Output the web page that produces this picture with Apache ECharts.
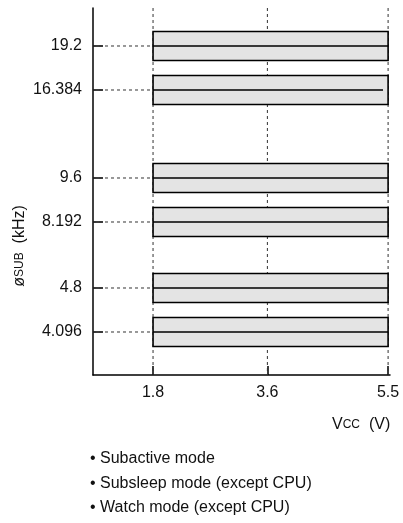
<!DOCTYPE html>
<html><head><meta charset="utf-8">
<script src="https://cdn.jsdelivr.net/npm/echarts@6/dist/echarts.min.js"></script>
<style>html,body{margin:0;padding:0;background:#fff}#c{width:403px;height:523px}</style>
</head><body><div id="c"></div>
<script>
// Frequency rows (empty strings are spacer rows of the schematic)
const freqRows = ['19.2','','16.384','','','','9.6','','8.192','','','4.8','','4.096'];
// Operating range of each frequency row (V)
const vccFrom = [1.8, 1.8, 1.8, 1.8, 1.8, 1.8];
const vccTo   = [5.5, 5.5, 5.5, 5.5, 5.5, 5.5];
// Where the middle rule of each bar ends (V)
const midEnd  = [5.5, 5.42, 5.5, 5.5, 5.5, 5.5];
// Vcc tick labels
const vccTicks = [1.8, 3.6, 5.5];
const modes = ['Subactive mode', 'Subsleep mode (except CPU)', 'Watch mode (except CPU)'];

const rowIdx = [];
freqRows.forEach((f, i) => { if (f !== '') rowIdx.push(i); });
const barData = rowIdx.map((r, k) => [vccFrom[k], vccTo[k], r, midEnd[k]]);

const X_MIN = 0.855, X_MAX = 5.53, Y_MIN = -1.727, Y_MAX = 14.955;
const FONT = 'Liberation Sans, Arial, sans-serif';
const FS = 16;

const chart = echarts.init(document.getElementById('c'));
chart.setOption({
  animation: false,
  grid: { left: 93, right: 13, top: 8, height: 367 },
  xAxis: {
    type: 'value', min: X_MIN, max: X_MAX,
    axisLine: { onZero: false, lineStyle: { color: '#000', width: 1.5 } },
    axisTick: { inside: true, length: 9, customValues: vccTicks, lineStyle: { color: '#000', width: 1.5 } },
    axisLabel: { customValues: vccTicks, margin: 10, color: '#111', fontSize: FS, fontFamily: FONT,
      formatter: v => String(v) },
    splitLine: { show: false }
  },
  yAxis: {
    type: 'value', inverse: true, min: Y_MIN, max: Y_MAX,
    axisLine: { show: true, onZero: false, lineStyle: { color: '#000', width: 1.5 } },
    axisTick: { show: true, inside: true, length: 10, customValues: rowIdx, lineStyle: { color: '#000', width: 1.5 } },
    axisLabel: { customValues: rowIdx, margin: 11, color: '#111', fontSize: FS, fontFamily: FONT,
      formatter: v => freqRows[Math.round(v)] },
    splitLine: { show: false }
  },
  series: [
    {
      type: 'custom', clip: false, z: 1,
      data: vccTicks.map(v => [v]),
      encode: { x: 0 },
      renderItem: (params, api) => {
        const v = api.value(0);
        const p1 = api.coord([v, Y_MIN]);
        const p2 = api.coord([v, Y_MAX]);
        return { type: 'line', shape: { x1: p1[0], y1: p1[1], x2: p2[0], y2: p2[1] },
          style: { stroke: '#333', lineWidth: 1, lineDash: [3, 3] } };
      }
    },
    {
      type: 'custom', clip: false, z: 2,
      data: barData,
      encode: { x: [0, 1], y: 2 },
      renderItem: (params, api) => {
        const x0 = api.value(0), x1 = api.value(1), r = api.value(2), xm = api.value(3);
        const a = api.coord([x0, r]);
        const b = api.coord([x1, r]);
        const m = api.coord([xm, r]);
        const o = api.coord([X_MIN, r]);
        const h = api.size([0, 1.32])[1];
        return { type: 'group', children: [
          { type: 'line', shape: { x1: o[0], y1: a[1], x2: a[0], y2: a[1] },
            style: { stroke: '#333', lineWidth: 1, lineDash: [3, 3] } },
          { type: 'rect', shape: { x: a[0], y: a[1] - h / 2, width: b[0] - a[0], height: h },
            style: { fill: '#e4e4e4', stroke: '#000', lineWidth: 1.6 } },
          { type: 'line', shape: { x1: a[0], y1: a[1], x2: m[0], y2: a[1] },
            style: { stroke: '#000', lineWidth: 1.6 } }
        ] };
      }
    }
  ],
  graphic: [
    { type: 'text', x: 20, y: 246, rotation: Math.PI / 2, style: {
        text: '{a|ø}{s|SUB}{a|  (kHz)}', align: 'center', verticalAlign: 'middle',
        rich: { a: { fontSize: FS, fontFamily: FONT, fill: '#111' }, s: { fontSize: 12, fontFamily: FONT, fill: '#111' } } } },
    { type: 'text', x: 332, y: 425, style: {
        text: '{a|V}{s|CC}{a|  (V)}', verticalAlign: 'middle',
        rich: { a: { fontSize: FS, fontFamily: FONT, fill: '#111' }, s: { fontSize: 12, fontFamily: FONT, fill: '#111' } } } },
    ...modes.map((m, i) => ({ type: 'text', x: 90, y: 459 + i * 24.5, style: {
        text: '• ' + m, verticalAlign: 'middle', fontSize: FS, fontFamily: FONT, fill: '#111' } }))
  ]
});
</script></body></html>
